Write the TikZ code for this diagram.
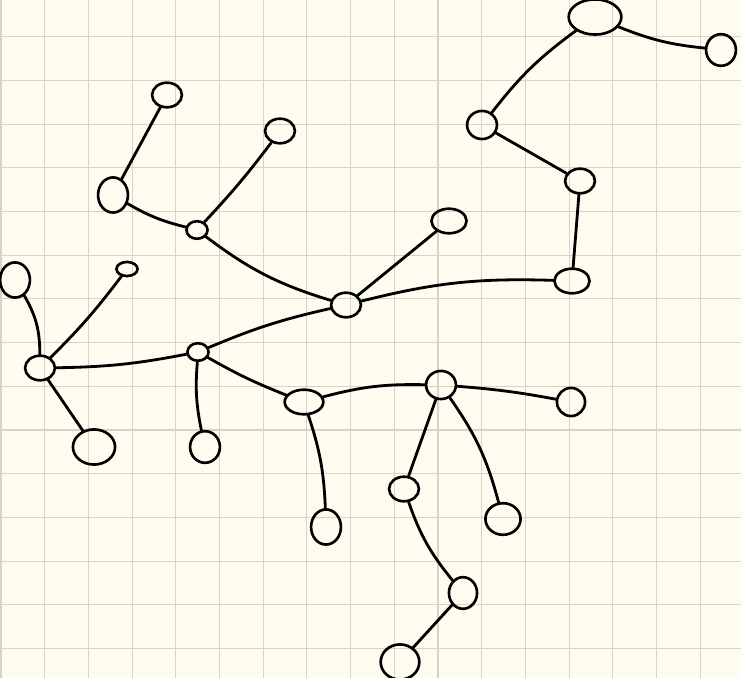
\documentclass[tikz,border=0pt]{standalone}
\usepackage{tikz}
\usetikzlibrary{shapes.geometric}
\definecolor{paperbg}{HTML}{FDFCEE}
\definecolor{gridgray}{HTML}{D6D4C4}

\begin{document}
\begin{tikzpicture}[
    x=0.02cm, y=0.02cm,
    knot/.style={ellipse, draw, line width=1.5pt, inner sep=0pt, minimum width=17, minimum height=14},
    smallknot/.style={knot, minimum width=12, minimum height=10},
    bigknot/.style={knot, minimum width=24, minimum height=20},
    edge/.style={line width=1.6pt, line cap=round},
    gridline/.style={gridgray, line width=0.6pt},
]
  % paper and grid
  \fill[paperbg] (0,0) rectangle (741,-678);
  \useasboundingbox (0,0) rectangle (741,-678);
  \foreach \k in {0,...,16} {
    \draw[gridline] (1+43.7*\k,0) -- (1+43.7*\k,-678);
  }
  \foreach \k in {1,...,15} {
    \draw[gridline] (0,7-43.7*\k) -- (741,7-43.7*\k);
  }

  % left hub and its leaves
  \node[knot] (hubl) at (40,-368) {};
  \node[knot, minimum height=20] (lfa) at (15,-280) {};
  \node[smallknot, minimum height=8] (lfb) at (127,-269) {};
  \node[bigknot] (lfc) at (94,-447) {};

  % middle-left knot
  \node[smallknot] (mid) at (198,-352) {};
  \node[knot, minimum height=18] (lfd) at (205,-447) {};

  % centre hub
  \node[knot] (hubc) at (346,-305) {};
  \node[smallknot] (up) at (197,-230) {};
  \node[knot, minimum height=20] (upl) at (113,-195) {};
  \node[knot] (upf) at (167,-95) {};
  \node[knot] (upg) at (280,-131) {};
  \node[knot, minimum width=20] (rh) at (449,-221) {};

  % right chain
  \node[knot, minimum width=20] (ri) at (572,-281) {};
  \node[knot] (rj) at (580,-181) {};
  \node[knot, minimum height=16] (rk) at (482,-125) {};
  \node[bigknot, minimum width=30] (rl) at (595,-17) {};
  \node[knot, minimum height=18] (rm) at (721,-50) {};

  % lower branch
  \node[knot, minimum width=22] (lr) at (304,-402) {};
  \node[knot, minimum height=20] (ls) at (326,-527) {};
  \node[knot, minimum height=16] (lt) at (441,-385) {};
  \node[knot, minimum width=16, minimum height=16] (lu) at (571,-402) {};
  \node[knot, minimum width=20, minimum height=18] (lv) at (503,-519) {};
  \node[knot] (lw) at (404,-489) {};
  \node[knot, minimum width=16, minimum height=18] (lx) at (463,-593) {};
  \node[knot, minimum width=22, minimum height=20] (ly) at (400,-662) {};

  % connectors
  \draw[edge] (hubl) to[bend right=15] (lfa);
  \draw[edge] (hubl) to[bend right=4] (lfb);
  \draw[edge] (hubl) -- (lfc);
  \draw[edge] (hubl) to[bend right=5] (mid);
  \draw[edge] (mid) to[bend right=8] (lfd);
  \draw[edge] (mid) to[bend right=4] (lr);
  \draw[edge] (mid) to[bend left=5] (hubc);
  \draw[edge] (hubc) to[bend left=10] (up);
  \draw[edge] (hubc) -- (rh);
  \draw[edge] (hubc) to[bend left=8] (ri);
  \draw[edge] (up) to[bend left=8] (upl);
  \draw[edge] (up) to[bend right=3] (upg);
  \draw[edge] (upl) -- (upf);
  \draw[edge] (ri) -- (rj);
  \draw[edge] (rj) -- (rk);
  \draw[edge] (rk) to[bend left=8] (rl);
  \draw[edge] (rl) to[bend right=8] (rm);
  \draw[edge] (lr) to[bend left=8] (ls);
  \draw[edge] (lr) to[bend left=8] (lt);
  \draw[edge] (lt) to[bend left=3] (lu);
  \draw[edge] (lt) to[bend left=10] (lv);
  \draw[edge] (lt) -- (lw);
  \draw[edge] (lw) to[bend right=10] (lx);
  \draw[edge] (lx) -- (ly);
\end{tikzpicture}
\end{document}
